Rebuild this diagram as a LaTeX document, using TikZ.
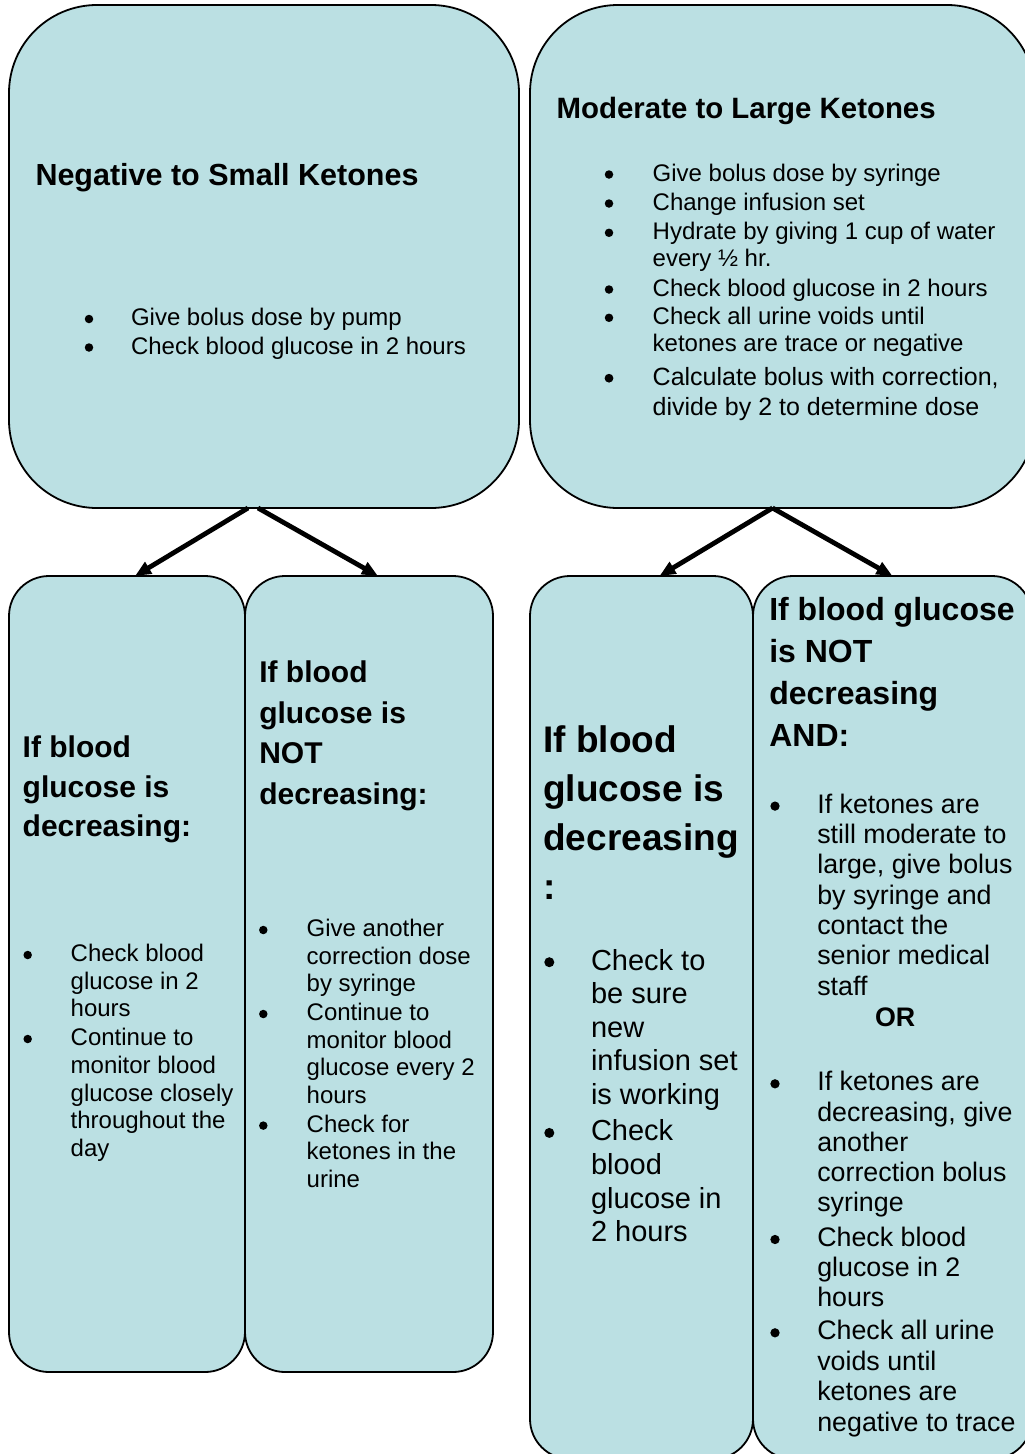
\documentclass[tikz,border=0pt]{standalone}
\usepackage{fontspec}
\setmainfont{Liberation Sans}
\usetikzlibrary{arrows.meta}
\definecolor{boxfill}{RGB}{187,224,227}
\tikzset{
  box/.style={draw=black, line width=1.8pt, fill=boxfill, inner sep=0pt, outer sep=0pt},
  bigbox/.style={box, rounded corners=88pt},
  smallbox/.style={box, rounded corners=40pt},
  % multi-line texts are placed by the baseline of their LAST line
  txt/.style={anchor=base west, inner sep=0pt, outer sep=0pt, align=left},
  bul/.style={circle, fill=black, inner sep=0pt, outer sep=0pt, minimum size=#1},
  bul/.default=8.5pt,
  link/.style={line width=4.8pt, -{Triangle[length=16pt,width=13pt]}},
}
\newcommand{\fsz}[2]{\fontsize{#1pt}{#2pt}\selectfont}
\begin{document}
\begin{tikzpicture}[x=1pt,y=-1pt]
\useasboundingbox (0,0) rectangle (1025,1454);
\clip (0,0) rectangle (1025,1454);
% boxes
\node[bigbox, minimum width=510pt, minimum height=503pt] (tl) at (264,256.5) {};
\node[bigbox, minimum width=505pt, minimum height=503pt] (tr) at (782.5,256.5) {};
\node[smallbox, minimum width=236pt, minimum height=796pt] (b1) at (127,974) {};
\node[smallbox, minimum width=248pt, minimum height=796pt] (b2) at (369,974) {};
\node[smallbox, minimum width=223pt, minimum height=883pt] (b3) at (641.5,1017.5) {};
\node[smallbox, minimum width=279pt, minimum height=883pt] (b4) at (892.5,1017.5) {};
% arrows
\draw[link] ([xshift=-16pt]tl.south) -- ([xshift=8pt]b1.north);
\draw[link] ([xshift=-6pt]tl.south) -- ([xshift=9pt]b2.north);
\draw[link] ([xshift=-10pt]tr.south) -- ([xshift=18pt]b3.north);
\draw[link] ([xshift=-10pt]tr.south) -- ([xshift=0pt]b4.north);
% top left
\node[txt, font=\fsz{30.5}{35}\bfseries] (tlh) at (35.5,185.6) {Negative to Small Ketones};
\node[bul] (tlb1) at (89,319) {};
\node[txt, font=\fsz{24}{28.5}] (tli1) at (131,325.5) {Give bolus dose by pump};
\node[bul] (tlb2) at (89,347.5) {};
\node[txt, font=\fsz{24}{28.5}] (tli2) at (131,354) {Check blood glucose in 2 hours};
% top right
\node[txt, font=\fsz{29.4}{35}\bfseries] (trh) at (556.7,118.3) {Moderate to Large Ketones};
\node[bul] (trb1) at (609,174.5) {};
\node[txt, font=\fsz{24}{28.5}] (tri1) at (652.7,181) {Give bolus dose by syringe};
\node[bul] (trb2) at (609,203.5) {};
\node[txt, font=\fsz{24}{28.5}] (tri2) at (652.7,210) {Change infusion set};
\node[bul] (trb3) at (609,232.8) {};
\node[txt, font=\fsz{24}{27.4}] (tri3) at (652.7,266.7) {Hydrate by giving 1 cup of water\\every ½ hr.};
\node[bul] (trb4) at (609,289.5) {};
\node[txt, font=\fsz{24}{28.5}] (tri4) at (652.7,296) {Check blood glucose in 2 hours};
\node[bul] (trb5) at (609,317.8) {};
\node[txt, font=\fsz{24}{27.4}] (tri5) at (652.7,351.7) {Check all urine voids until\\ketones are trace or negative};
\node[bul=8.8pt] (trb6) at (609,378.2) {};
\node[txt, font=\fsz{25}{30}] (tri6) at (652.7,415) {Calculate bolus with correction,\\divide by 2 to determine dose};
% bottom 1
\node[txt, font=\fsz{30}{39.7}\bfseries] (b1h) at (22.7,836.7) {If blood\\glucose is\\decreasing:};
\node[bul] (b1b1) at (27.7,955) {};
\node[txt, font=\fsz{24}{27.5}] (b1i1) at (70.7,1016.7) {Check blood\\glucose in 2\\hours};
\node[bul] (b1b2) at (27.7,1039) {};
\node[txt, font=\fsz{24}{27.75}] (b1i2) at (70.7,1156.7) {Continue to\\monitor blood\\glucose closely\\throughout the\\day};
% bottom 2
\node[txt, font=\fsz{30}{40.4}\bfseries] (b2h) at (259.3,804) {If blood\\glucose is\\NOT\\decreasing:};
\node[bul] (b2b1) at (263.3,930) {};
\node[txt, font=\fsz{24}{27.5}] (b2i1) at (306.7,991.7) {Give another\\correction dose\\by syringe};
\node[bul] (b2b2) at (263.3,1014) {};
\node[txt, font=\fsz{24}{27.5}] (b2i2) at (306.7,1103.3) {Continue to\\monitor blood\\glucose every 2\\hours};
\node[bul] (b2b3) at (263.3,1125.6) {};
\node[txt, font=\fsz{24}{27.5}] (b2i3) at (306.7,1187.3) {Check for\\ketones in the\\urine};
% bottom 3
\node[txt, font=\fsz{37}{49}\bfseries] (b3h) at (543.3,899.7) {If blood\\glucose is\\decreasing\\:};
\node[bul=10pt] (b3b1) at (549.3,962.2) {};
\node[txt, font=\fsz{29}{33.5}] (b3i1) at (591,1104) {Check to\\be sure\\new\\infusion set\\is working};
\node[bul=10pt] (b3b2) at (549.3,1132.9) {};
\node[txt, font=\fsz{29}{33.7}] (b3i2) at (591,1241.7) {Check\\blood\\glucose in\\2 hours};
% bottom 4
\node[txt, font=\fsz{32}{42.2}\bfseries] (b4h) at (769.3,746.7) {If blood glucose\\is NOT\\decreasing\\AND:};
\node[bul=9.3pt] (b4b1) at (775,806.1) {};
\node[txt, font=\fsz{26.8}{30.3}] (b4i1) at (817.3,995) {If ketones are\\still moderate to\\large, give bolus\\by syringe and\\contact the\\senior medical\\staff};
\node[txt, font=\fsz{26.8}{30.3}\bfseries] (b4or) at (875,1026.7) {OR};
\node[bul=9.3pt] (b4b2) at (775,1083.8) {};
\node[txt, font=\fsz{26.8}{30.2}] (b4i2) at (817.3,1211.7) {If ketones are\\decreasing, give\\another\\correction bolus\\syringe};
\node[bul=9.3pt] (b4b3) at (775,1239.5) {};
\node[txt, font=\fsz{26.8}{30}] (b4i3) at (817.3,1306.7) {Check blood\\glucose in 2\\hours};
\node[bul=9.3pt] (b4b4) at (775,1332.8) {};
\node[txt, font=\fsz{26.8}{30.4}] (b4i4) at (817.3,1431) {Check all urine\\voids until\\ketones are\\negative to trace};
\end{tikzpicture}
\end{document}
